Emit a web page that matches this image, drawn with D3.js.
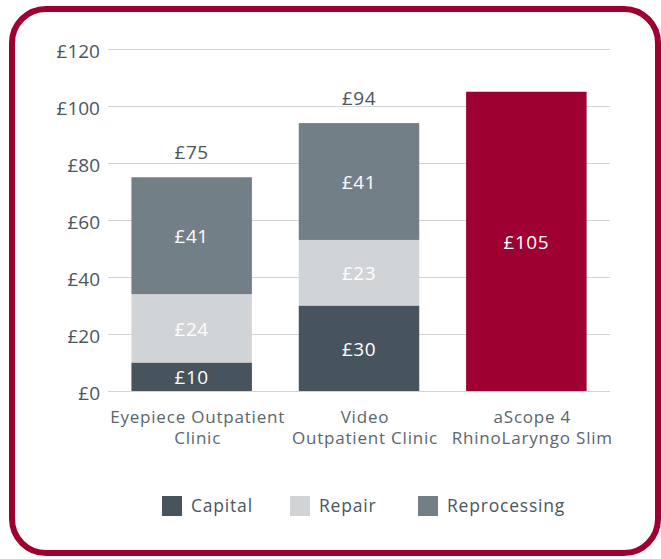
<!DOCTYPE html>
<html>
<head>
<meta charset="utf-8">
<script src="https://cdn.jsdelivr.net/npm/d3@7"></script>
<style>
  body { margin: 0; background: #fff; }
  svg { display: block; font-family: "Open Sans", sans-serif; }
</style>
</head>
<body>
<svg id="chart"></svg>
<script>
// chart data
var categories = [["Eyepiece Outpatient", "Clinic"], ["Video", "Outpatient Clinic"], ["aScope 4", "RhinoLaryngo Slim"]];
var capital = [10, 30, 0];
var repair = [24, 23, 0];
var reprocessing = [41, 41, 0];
var single = [0, 0, 105];
var totals = [75, 94, 105];
var seriesNames = ["Capital", "Repair", "Reprocessing"];
var yTicks = [0, 20, 40, 60, 80, 100, 120];

var colors = { Capital: "#47535d", Repair: "#d1d4d7", Reprocessing: "#737f86", single: "#9e0032" };
var textColor = "#4a5560";

var svgWidth = 661, svgHeight = 559;
var svg = d3.select("#chart").attr("width", svgWidth).attr("height", svgHeight);

// frame
svg.append("rect")
    .attr("x", 12).attr("y", 9)
    .attr("width", 646).attr("height", 544)
    .attr("rx", 34).attr("ry", 34)
    .attr("fill", "#fff")
    .attr("stroke", "#a0002f")
    .attr("stroke-width", 6);

var x = d3.scaleBand()
    .domain(d3.range(categories.length))
    .range([108, 610])
    .paddingInner(0.28)
    .paddingOuter(0.14);

var y = d3.scaleLinear().domain([0, 120]).range([391, 49]);

// gridlines
svg.append("g")
    .selectAll("line")
    .data(yTicks)
    .join("line")
    .attr("x1", 108).attr("x2", 610)
    .attr("y1", d => y(d) + 0.5).attr("y2", d => y(d) + 0.5)
    .attr("stroke", "#d3d3d3")
    .attr("stroke-width", 1);

// y axis labels
var yAxis = svg.append("g")
    .attr("transform", "translate(108,0)")
    .call(d3.axisLeft(y).tickValues(yTicks).tickSize(0).tickPadding(8).tickFormat(d => "£" + d));
yAxis.select(".domain").remove();
yAxis.selectAll("text")
    .attr("fill", textColor)
    .attr("font-size", 19)
    .attr("font-family", "Open Sans, sans-serif")
    .attr("dy", "0.45em");

// stacked segments
var rows = categories.map((c, i) => ({
    i: i, Capital: capital[i], Repair: repair[i], Reprocessing: reprocessing[i]
}));
var stack = d3.stack().keys(seriesNames)(rows);

var segs = [];
stack.forEach(layer => {
    layer.forEach(d => {
        if (d[1] - d[0] > 0) segs.push({ key: layer.key, i: d.data.i, y0: d[0], y1: d[1] });
    });
});
single.forEach((v, i) => { if (v > 0) segs.push({ key: "single", i: i, y0: 0, y1: v }); });

svg.append("g")
    .selectAll("rect")
    .data(segs)
    .join("rect")
    .attr("x", d => x(d.i))
    .attr("width", x.bandwidth())
    .attr("y", d => y(d.y1))
    .attr("height", d => y(d.y0) - y(d.y1))
    .attr("fill", d => colors[d.key]);

// segment labels
svg.append("g")
    .selectAll("text")
    .data(segs)
    .join("text")
    .attr("x", d => x(d.i) + x.bandwidth() / 2)
    .attr("y", d => (y(d.y0) + y(d.y1)) / 2)
    .attr("dy", "0.4em")
    .attr("text-anchor", "middle")
    .attr("fill", "#fff")
    .attr("font-size", 19)
    .attr("letter-spacing", 0.5)
    .text(d => "£" + (d.y1 - d.y0));

// totals above stacked bars
svg.append("g")
    .selectAll("text")
    .data(totals.filter((t, i) => single[i] === 0))
    .join("text")
    .attr("x", (d, i) => x(i) + x.bandwidth() / 2)
    .attr("y", d => y(d) - 18)
    .attr("text-anchor", "middle")
    .attr("fill", textColor)
    .attr("font-size", 19)
    .attr("letter-spacing", 0.5)
    .text(d => "£" + d);

// category labels (sit a little right of the bar centres)
var cat = svg.append("g")
    .selectAll("text")
    .data(categories)
    .join("text")
    .attr("x", (d, i) => x(i) + x.bandwidth() / 2 + 6)
    .attr("y", 423)
    .attr("text-anchor", "middle")
    .attr("fill", "#5a656e")
    .attr("font-size", 17)
    .attr("letter-spacing", 0.8);
cat.selectAll("tspan")
    .data(d => d)
    .join("tspan")
    .attr("x", function () { return d3.select(this.parentNode).attr("x"); })
    .attr("dy", (d, i) => i === 0 ? 0 : 21)
    .text(d => d);

// legend
var legendX = [162, 290, 418];
var legend = svg.append("g")
    .selectAll("g")
    .data(seriesNames)
    .join("g")
    .attr("transform", (d, i) => "translate(" + legendX[i] + ",496)");
legend.append("rect")
    .attr("width", 20).attr("height", 20)
    .attr("fill", d => colors[d]);
legend.append("text")
    .attr("x", 29).attr("y", 10)
    .attr("dy", "0.36em")
    .attr("fill", textColor)
    .attr("font-size", 17.5)
    .attr("letter-spacing", 0.8)
    .text(d => d);
</script>
</body>
</html>
